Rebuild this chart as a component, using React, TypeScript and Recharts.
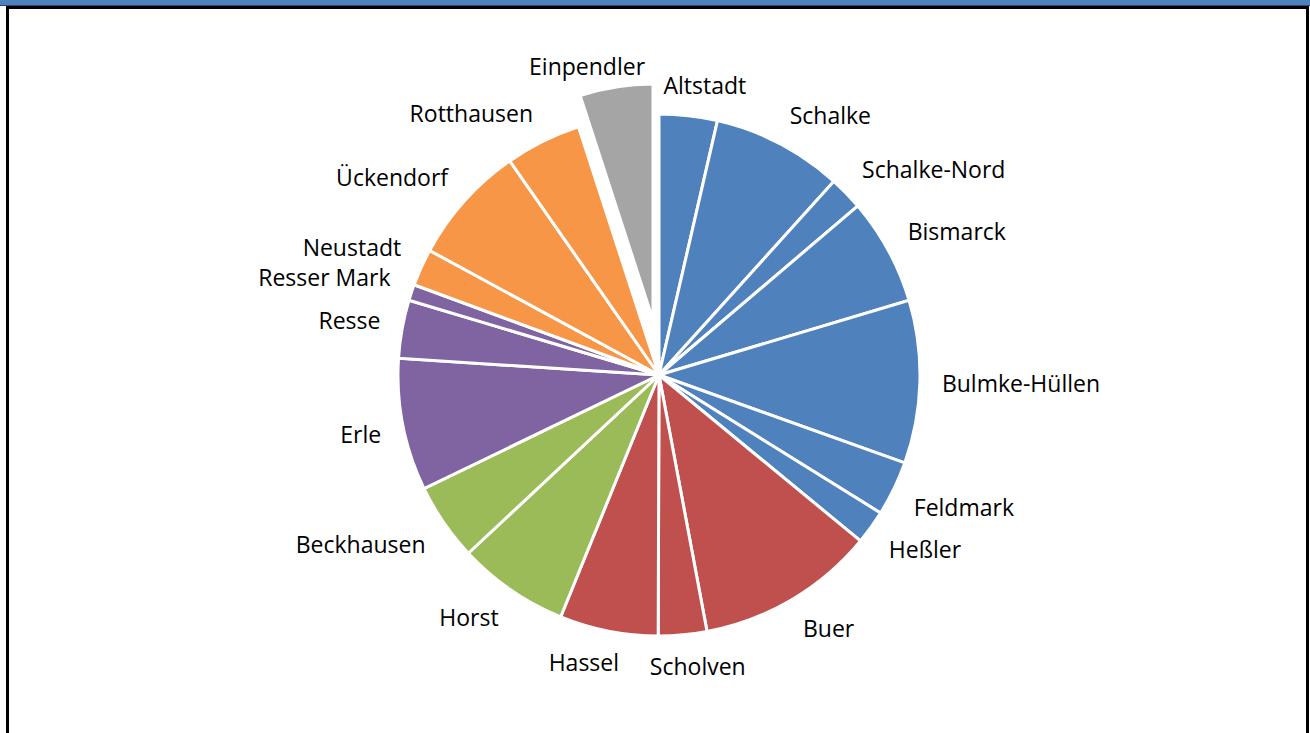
import { PieChart, Pie, Cell } from 'recharts'

// Anteile je Stadtteil (in %), im Uhrzeigersinn ab 12 Uhr
const stadtteile = [
	'Altstadt', 'Schalke', 'Schalke-Nord', 'Bismarck', 'Bulmke-Hüllen', 'Feldmark', 'Heßler',
	'Buer', 'Scholven', 'Hassel',
	'Horst', 'Beckhausen',
	'Erle', 'Resse', 'Resser Mark',
	'Neustadt', 'Ückendorf', 'Rotthausen',
	'Einpendler',
]
const anteile = [
	3.6, 8.1, 2.1, 6.6, 10.1, 3.4, 2.1,
	11.1, 3.0, 6.1,
	6.9, 4.8,
	8.2, 3.6, 1.0,
	2.3, 7.4, 4.7,
	5.0,
]
const bezirke = [
	'Mitte', 'Mitte', 'Mitte', 'Mitte', 'Mitte', 'Mitte', 'Mitte',
	'Nord', 'Nord', 'Nord',
	'West', 'West',
	'Ost', 'Ost', 'Ost',
	'Süd', 'Süd', 'Süd',
	'Auswärts',
]

const farben: Record<string, string> = {
	Mitte: '#4F81BD',
	Nord: '#C0504D',
	West: '#9BBB59',
	Ost: '#8064A2',
	Süd: '#F79646',
	Auswärts: '#A5A5A5',
}

const daten = stadtteile.map((name, i) => ({ name, wert: anteile[i], bezirk: bezirke[i] }))
const herausgezogen = 'Einpendler'

const FONT = '"Open Sans", sans-serif'
const FONT_SIZE = 23
const ZEILE = 30

let ctx: CanvasRenderingContext2D | null = null
function textBreite(t: string) {
	if (!ctx) ctx = document.createElement('canvas').getContext('2d')
	if (!ctx) return t.length * 11
	ctx.font = `${FONT_SIZE}px "Open Sans"`
	return ctx.measureText(t).width
}

const clamp = (v: number) => Math.max(-1, Math.min(1, v))

// bereits platzierte Beschriftungen (für einfache Überlappungsvermeidung)
const platziert: Record<number, { y: number; links: boolean }> = {}

// Beschriftung außen, ähnlich Excel "Außerhalb Ende"
function makeLabel(nurHerausgezogen: boolean, abstand: number) {
	return (props: any) => {
		const { cx, cy, midAngle, outerRadius, name, index } = props
		if ((name === herausgezogen) !== nurHerausgezogen) return null
		const rad = (midAngle * Math.PI) / 180
		const cos = Math.cos(rad)
		const sin = Math.sin(rad)
		const px = cx + (outerRadius + abstand) * cos
		const py = cy - (outerRadius + abstand) * sin
		const w = textBreite(name)
		const x = px + clamp(3 * cos) * w / 2
		let y = py + clamp(-3 * sin) * 9
		const links = cos < 0
		const vorher = platziert[index - 1]
		if (vorher && vorher.links === links) {
			if (links && vorher.y - y < ZEILE) y = vorher.y - ZEILE
			if (!links && y - vorher.y < ZEILE) y = vorher.y + ZEILE
		}
		platziert[index] = { y, links }
		return (
			<text
				x={x}
				y={y}
				textAnchor="middle"
				dominantBaseline="central"
				fill="#000"
				fontFamily={FONT}
				fontSize={FONT_SIZE}
			>
				{name}
			</text>
		)
	}
}

export default function App() {
	return (
		<div style={{ position: 'relative', width: 1310, height: 733, overflow: 'hidden', background: '#fff' }}>
			<style>{`body{margin:0}`}</style>
			<div style={{ position: 'absolute', left: 0, top: 0, width: 1310, height: 5, background: '#4F81BD' }} />
			<div style={{ position: 'absolute', left: 0, top: 5, width: 1310, height: 1, background: '#2C4A70' }} />
			<div
				style={{
					position: 'absolute', left: 6, top: 6, width: 1303, height: 800,
					border: '3px solid #000', boxSizing: 'border-box',
				}}
			/>
			<div style={{ position: 'absolute', left: 0, top: 0 }}>
				<PieChart width={1310} height={733} margin={{ top: 0, right: 0, bottom: 0, left: 0 }}>
					<Pie
						data={daten}
						dataKey="wert"
						nameKey="name"
						cx={659}
						cy={375}
						outerRadius={261}
						startAngle={90}
						endAngle={-270}
						stroke="#fff"
						strokeWidth={3}
						labelLine={false}
						label={makeLabel(false, 22)}
						isAnimationActive={false}
					>
						{daten.map((d, i) => (
							<Cell
								key={`a-${i}`}
								fill={d.name === herausgezogen ? 'none' : farben[d.bezirk]}
								stroke={d.name === herausgezogen ? 'none' : '#fff'}
							/>
						))}
					</Pie>
					<Pie
						data={daten}
						dataKey="wert"
						nameKey="name"
						cx={653}
						cy={320}
						outerRadius={236}
						startAngle={90}
						endAngle={-270}
						stroke="#fff"
						strokeWidth={3}
						labelLine={false}
						label={makeLabel(true, 12)}
						isAnimationActive={false}
					>
						{daten.map((d, i) => (
							<Cell
								key={`b-${i}`}
								fill={d.name === herausgezogen ? farben[d.bezirk] : 'none'}
								stroke={d.name === herausgezogen ? '#fff' : 'none'}
							/>
						))}
					</Pie>
				</PieChart>
			</div>
		</div>
	)
}
